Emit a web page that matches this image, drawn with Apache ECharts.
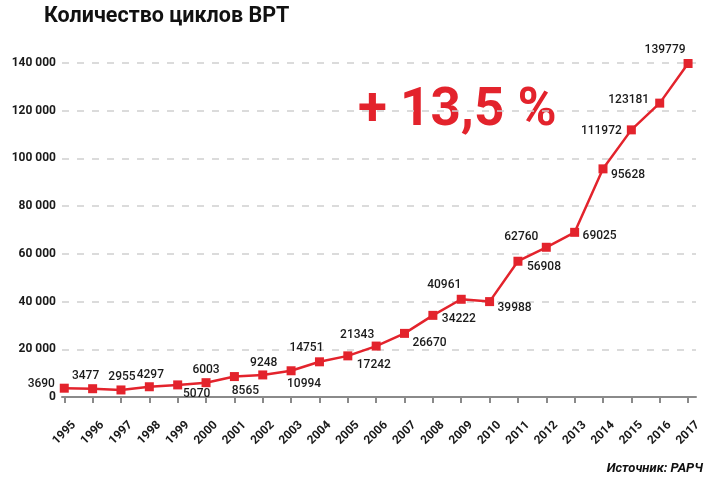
<!DOCTYPE html>
<html><head><meta charset="utf-8">
<script src="https://cdn.jsdelivr.net/npm/echarts@6/dist/echarts.min.js"></script>
<style>html,body{margin:0;padding:0;background:#fff}#c{width:715px;height:484px}</style>
</head><body><div id="c"></div>
<script>
const years = [1995,1996,1997,1998,1999,2000,2001,2002,2003,2004,2005,2006,2007,2008,2009,2010,2011,2012,2013,2014,2015,2016,2017];
const cycles = [3690,3477,2955,4297,5070,6003,8565,9248,10994,14751,17242,21343,26670,34222,40961,39988,56908,62760,69025,95628,111972,123181,139779];
const yTicks = [0,20000,40000,60000,80000,100000,120000,140000];
const title = 'Количество циклов ВРТ';
const growth = '+ 13,5 %';
const source = 'Источник: РАРЧ';
// label offsets (style only)
const labelOffsets = [[-23,-4],[-7,-13],[1,-13],[1,-12],[19,9],[0,-13],[11,14],[1,-12],[13,13],[-13,-14],[26,9],[-19,-11],[25,10],[26,4],[-17,-14],[25,6],[26,6],[-25,-10],[25,4],[25,6],[-30,1],[-31,-3],[-23,-14]];

const RED = '#e3232c';
const chart = echarts.init(document.getElementById('c'));
chart.setOption({
  animation:false,
  grid:{left:62,right:19,top:63,bottom:87,containLabel:false},
  xAxis:{type:'value',min:1994.92,max:2017.28,
    axisLine:{lineStyle:{color:'#8a8a8a',width:2}},
    axisTick:{customValues:years,length:6,lineStyle:{color:'#8a8a8a',width:2}},
    axisLabel:{customValues:years,rotate:45,align:'center',verticalAlign:'middle',margin:36,fontSize:12,fontWeight:'bold',color:'#1a1a1a',fontFamily:'Roboto',formatter:v=>String(v)},
    splitLine:{show:false}},
  yAxis:{type:'value',min:yTicks[0],max:yTicks[yTicks.length-1],interval:yTicks[1]-yTicks[0],
    axisLine:{show:false},axisTick:{show:false},
    axisLabel:{margin:6,fontSize:12,fontWeight:'bold',color:'#1a1a1a',fontFamily:'Roboto',
      formatter:v=>v===0?'0':String(v).replace(/\B(?=(\d{3})+(?!\d))/g,' ')},
    splitLine:{lineStyle:{color:'#cfcfcf',type:[7,8],width:1.5}}},
  series:[{type:'line',clip:false,
    data:years.map((y,i)=>({value:[y,cycles[i]],label:{offset:labelOffsets[i]}})),
    symbol:'rect',symbolSize:9,
    lineStyle:{color:RED,width:2.5},itemStyle:{color:RED},
    label:{show:true,position:'inside',align:'center',verticalAlign:'middle',
      fontSize:12,fontWeight:500,color:'#1a1a1a',fontFamily:'Roboto',
      formatter:p=>String(p.value[1])}
  }],
  graphic:[
    {type:'text',left:44,top:6,style:{text:title,font:'bold 21.5px Roboto',fill:'#111'}},
    {type:'text',left:358,top:85,style:{text:growth,font:'bold 53px Roboto',fill:RED}},
    {type:'text',right:12,top:462,style:{text:source,font:'italic bold 13px Roboto',fill:'#111'}}
  ]
});
</script></body></html>
